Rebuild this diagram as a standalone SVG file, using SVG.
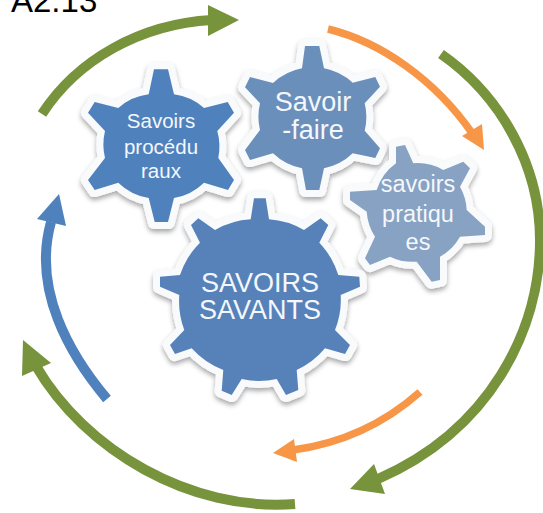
<svg xmlns="http://www.w3.org/2000/svg" width="543" height="513" viewBox="0 0 543 513">
<defs>
<filter id="sh" x="-15%" y="-15%" width="130%" height="130%"><feDropShadow dx="0" dy="3" stdDeviation="2.5" flood-color="#000" flood-opacity="0.35"/></filter>
</defs>
<style>
.gear{stroke:#f9fafb;stroke-width:14;stroke-linejoin:round;paint-order:stroke;filter:url(#sh)}
.t{font-family:"Liberation Sans",Arial,sans-serif;fill:#f4f7fb;text-anchor:middle}
.a{fill:none}
</style>
<rect width="543" height="513" fill="#fff"/>
<text x="11" y="12" font-family="'Liberation Sans',Arial,sans-serif" font-size="33" fill="#000">A2.13</text>
<g id="connectors">
<path class="a" d="M42,114C77,60 140,24 212,20" stroke="#77933c" stroke-width="10"/><polygon points="208,5 239,20 208,36" fill="#77933c"/>
<path class="a" d="M328,29C381,42 435,80 472,133" stroke="#f79646" stroke-width="7.5"/><polygon points="462,136 482,124 484,150" fill="#f79646"/>
<path class="a" d="M441,54C500,95 540,165 540,240C540,330 490,430 378,479" stroke="#77933c" stroke-width="10"/><polygon points="374,464 350,489 385,494" fill="#77933c"/>
<path class="a" d="M420,392C385,423 345,443 293,450" stroke="#f79646" stroke-width="7.5"/><polygon points="294,439 273,453 297,462" fill="#f79646"/>
<path class="a" d="M295,504C190,512 85,450 36,366" stroke="#77933c" stroke-width="10"/><polygon points="23,340 51,363 22,376" fill="#77933c"/>
<path class="a" d="M107,399C70,355 32,290 51,222" stroke="#4f81bd" stroke-width="10"/><polygon points="59,194 66,226 37,219" fill="#4f81bd"/>
</g>
<g id="gear-procedures">
<path class="gear" fill="#4f81bd" d="M154,69.3L168,69.3L174,94.3A56,56 0 0 1 204,108L227.7,102L234,112.7L217.3,131A58,58 0 0 1 218.3,158L234,180L228,190L204,182.7A56,56 0 0 1 174,198L168,222L154.7,222L148.7,198A56,56 0 0 1 118.3,182.7L94.7,190L88,180L105,158A58,58 0 0 1 105,131L88,112.7L94.7,102L118.3,108A56,56 0 0 1 148.7,94.3Z"/>
<text class="t" font-size="20.5" x="161" y="128">Savoirs</text><text class="t" font-size="20.5" x="161" y="154">procédu</text><text class="t" font-size="20.5" x="161" y="178">raux</text>
</g>
<g id="gear-savoir-faire">
<path class="gear" fill="#6b8fbb" d="M305,46L319.3,46L324,68.3A58,58 0 0 1 352.7,82.7L375.3,77L380,86.7L364.7,103.3A58,58 0 0 1 364.7,130.7L380,148.3L375.3,158L352.7,153.3A58,58 0 0 1 324,168.3L319.3,190L306,190L302,168.3A58,58 0 0 1 273,153.3L250,160L245,150L260,130A58,58 0 0 1 260,103.3L245,87.3L250,77L273,83A58,58 0 0 1 302,68.3Z"/>
<text class="t" font-size="27" x="313" y="111">Savoir</text><text class="t" font-size="27" x="313" y="139">-faire</text>
</g>
<g id="gear-pratiques">
<path class="gear" fill="#87a2c3" d="M396,146.7L405,145L413.3,163.3A52,52 0 0 1 443.3,170L463.3,161.7L470,168.3L460,186.7A52,52 0 0 1 466.7,210L485,226.7L485,235L460,236.7A52,52 0 0 1 440,256.7L440,280L431.7,281.7L416.7,261.7A52,52 0 0 1 390,256.7L370,265L365,258.3L375,236.7A52,52 0 0 1 366.7,211.7L350,200L350,191.7L376.7,190A52,52 0 0 1 396,163.3Z"/>
<text class="t" font-size="23.5" x="418" y="192">savoirs</text><text class="t" font-size="23.5" x="418" y="222">pratiqu</text><text class="t" font-size="23.5" x="418" y="250">es</text>
</g>
<g id="gear-savants">
<path class="gear" fill="#5782b9" d="M254,198.3L265.7,198.3L269,219.3A81,81 0 0 1 304,230L320.7,218.3L328.3,225L319.3,242.7A81,81 0 0 1 338.3,275L359.3,276.7L360,286.7L340.7,295A81,81 0 0 1 335,330L350,345L345,354L325,348.3A81,81 0 0 1 296.7,370L298.3,390L286,395L276.7,379A81,81 0 0 1 241.7,379L231.7,395L221.7,390.7L223.3,370A81,81 0 0 1 191.7,348.3L175,354L170,345L184.3,330A81,81 0 0 1 179.3,295L160,286.7L160,276.7L180,275A81,81 0 0 1 200,242.7L191,225L198.3,218.3L215,230A81,81 0 0 1 250.7,219.3Z"/>
<text class="t" font-size="27" x="260" y="292">SAVOIRS</text><text class="t" font-size="27" x="260" y="319">SAVANTS</text>
</g>
</svg>
